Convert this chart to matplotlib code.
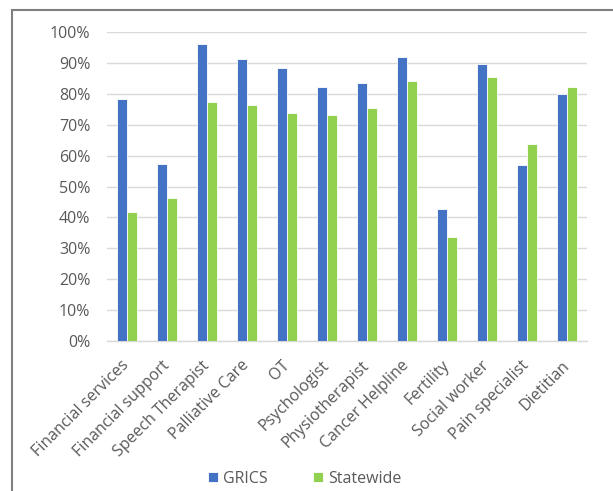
import numpy as np
import matplotlib.pyplot as plt
from matplotlib.patches import Rectangle
from matplotlib.ticker import PercentFormatter

categories = ["Financial services", "Financial support", "Speech Therapist",
              "Palliative Care", "OT", "Psychologist", "Physiotherapist",
              "Cancer Helpline", "Fertility", "Social worker", "Pain specialist",
              "Dietitian"]
grics = [78.3, 57.3, 96.2, 91.4, 88.3, 82.2, 83.6, 91.9, 42.7, 89.6, 57.0, 80.1]
statewide = [41.6, 46.3, 77.3, 76.5, 73.8, 73.2, 75.3, 84.2, 33.8, 85.3, 63.6, 82.2]

plt.rcParams['font.family'] = ['Open Sans', 'DejaVu Sans']

fig = plt.figure(figsize=(6.13, 4.91), dpi=100)
ax = fig.add_axes([0.1746, 0.3055, 0.7830, 0.6293])

x = np.arange(len(categories))
w = 0.25
ax.bar(x - w / 2 - 0.01, grics, w, color='#4472c4', edgecolor='white',
       linewidth=0.6, label='GRICS', zorder=3)
ax.bar(x + w / 2 + 0.01, statewide, w, color='#92d050', edgecolor='white',
       linewidth=0.6, label='Statewide', zorder=3)

ax.set_xlim(-0.5, len(categories) - 0.5)
ax.set_ylim(0, 100)
ax.set_yticks(np.arange(0, 101, 10))
ax.yaxis.set_major_formatter(PercentFormatter(decimals=0))
ax.grid(axis='y', color='#d9d9d9', linewidth=1, zorder=0)
for s in ['top', 'right', 'left']:
    ax.spines[s].set_visible(False)
ax.spines['bottom'].set_color('#d9d9d9')
ax.spines['bottom'].set_linewidth(1)
ax.tick_params(length=0, labelsize=11.5, colors='#595959')
ax.tick_params(axis='y', pad=12)
ax.tick_params(axis='x', pad=16)
ax.set_xticks(x)
ax.set_xticklabels(categories, rotation=45, ha='right', va='center',
                   rotation_mode='anchor')

leg = fig.legend(loc='lower center', bbox_to_anchor=(0.497, -0.021), ncol=2,
                 frameon=False, fontsize=11.5, handlelength=0.6, handleheight=0.6,
                 columnspacing=2.9, handletextpad=0.3)
for t in leg.get_texts():
    t.set_color('#595959')

# chart frame
fig.patches.append(Rectangle((12 / 613, -0.1), 1.1, 1 - 10 / 491 + 0.1,
                             transform=fig.transFigure, fill=False,
                             edgecolor='#7f7f7f', linewidth=1.5))

fig.savefig('out.png', dpi=100)
